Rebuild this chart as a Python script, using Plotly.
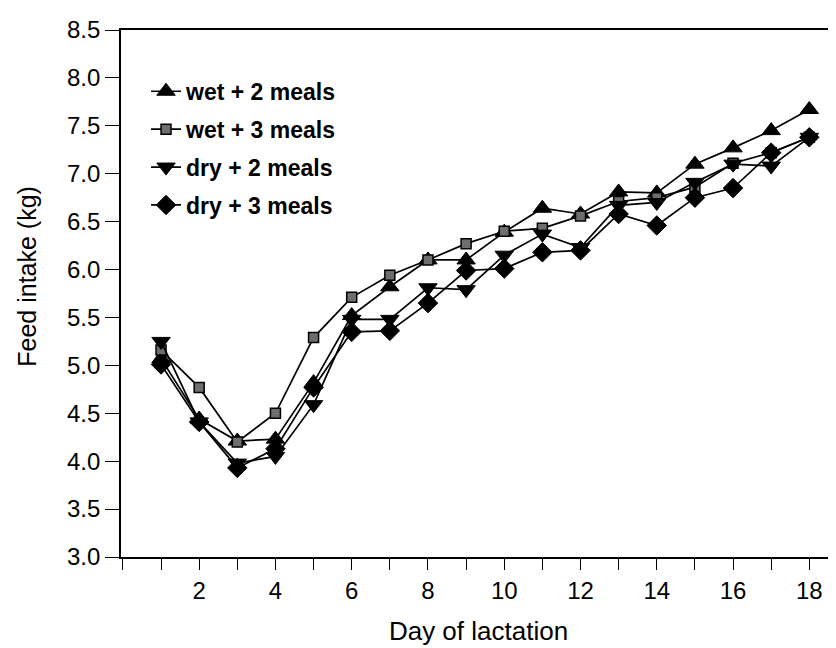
import plotly.graph_objects as go

days = list(range(1, 19))
wet_2_meals = [5.07, 4.44, 4.21, 4.23, 4.82, 5.52, 5.82, 6.10, 6.10, 6.39, 6.64, 6.58, 6.81, 6.80, 7.10, 7.27, 7.45, 7.67]
wet_3_meals = [5.16, 4.77, 4.20, 4.50, 5.29, 5.71, 5.94, 6.10, 6.27, 6.40, 6.43, 6.56, 6.71, 6.75, 6.86, 7.11, 7.22, 7.38]
dry_2_meals = [5.25, 4.41, 3.98, 4.05, 4.59, 5.48, 5.48, 5.81, 5.79, 6.15, 6.37, 6.23, 6.67, 6.70, 6.91, 7.10, 7.08, 7.38]
dry_3_meals = [5.01, 4.41, 3.93, 4.13, 4.77, 5.35, 5.36, 5.65, 5.99, 6.01, 6.18, 6.20, 6.58, 6.46, 6.75, 6.85, 7.22, 7.38]

series_names = ["wet + 2 meals", "wet + 3 meals", "dry + 2 meals", "dry + 3 meals"]
x_tick_values = list(range(0, 19))
x_tick_labels = ["" if (v % 2 or v == 0) else str(v) for v in x_tick_values]
y_tick_values = [3.0 + 0.5 * i for i in range(12)]
y_tick_labels = [f"{v:.1f}" for v in y_tick_values]

styles = [
    dict(symbol="triangle-up", size=16, color="black", line=dict(color="black", width=1)),
    dict(symbol="square", size=10, color="#6e6e6e", line=dict(color="black", width=1.5)),
    dict(symbol="triangle-down", size=16, color="black", line=dict(color="black", width=1)),
    dict(symbol="diamond", size=15, color="black", line=dict(color="black", width=1)),
]

fig = go.Figure()
for i, (name, vals) in enumerate(zip(series_names, [wet_2_meals, wet_3_meals, dry_2_meals, dry_3_meals])):
    fig.add_trace(go.Scatter(
        x=days, y=vals, name="<b>" + name + "</b>", mode="lines+markers",
        line=dict(color="black", width=1.7),
        marker=styles[i], legendgroup=str(i),
    ))

# the page body has an 8px margin, so the figure is laid out 8px up/left of the target
L, R, T, B = 113, 8, 15, 99
PW, PH = 836 - L - R, 648 - T - B

font_family = "Liberation Sans, Arial, Helvetica, sans-serif"
fig.update_layout(
    width=836, height=648,
    margin=dict(l=L, r=R, t=T, b=B),
    paper_bgcolor="white", plot_bgcolor="white",
    font=dict(family=font_family, size=24, color="black"),
    showlegend=True,
    legend=dict(x=0.035, y=0.9245, xanchor="left", yanchor="top",
                font=dict(size=23, color="black"), bgcolor="rgba(0,0,0,0)",
                tracegroupgap=5, itemwidth=30),
    xaxis=dict(range=[-0.05, 18.7], tickmode="array", tickvals=x_tick_values, ticktext=x_tick_labels,
               ticks="outside", ticklen=11, tickwidth=1.3, tickcolor="black",
               tickfont=dict(size=24),
               showline=True, linecolor="black", linewidth=1.6, mirror=True,
               showgrid=False, zeroline=False,
               title=dict(text="Day of lactation", font=dict(size=26), standoff=19)),
    yaxis=dict(range=[3.0, 8.5], tickmode="array", tickvals=y_tick_values, ticktext=y_tick_labels,
               ticks="outside", ticklen=14, tickwidth=1.3, tickcolor="black",
               tickfont=dict(size=24), ticklabeloverflow="allow",
               showline=True, linecolor="black", linewidth=1.6,
               showgrid=False, zeroline=False),
    annotations=[dict(text="Feed intake (kg)", textangle=-90, xref="paper", yref="paper",
                      x=(19 - L) / PW, y=((648 - B) - 265) / PH, xanchor="center", yanchor="middle",
                      showarrow=False, font=dict(size=25, color="black"))],
)

fig.write_html("out.html")
